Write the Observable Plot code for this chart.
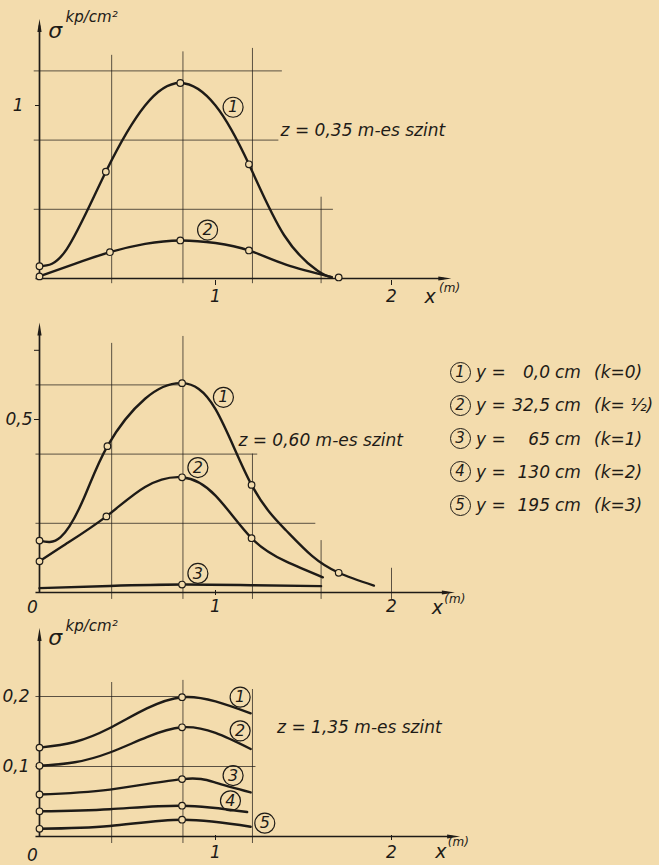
<!DOCTYPE html>
<html><head><meta charset="utf-8">
<script src="https://cdn.jsdelivr.net/npm/d3@7"></script>
<script src="https://cdn.jsdelivr.net/npm/@observablehq/plot@0.6"></script>
<style>
html,body{margin:0;padding:0;background:#f3dcad;}
#page{position:relative;width:659px;height:865px;overflow:hidden;background:#f3dcad;font-family:"DejaVu Sans","Liberation Sans",sans-serif;font-style:italic;color:#1e1b17;}
#page svg{position:absolute;left:0;overflow:visible;}
.leg{position:absolute;font-size:17px;white-space:pre;line-height:20px;}
.num{position:absolute;width:19px;height:19px;border:1.3px solid #1e1b17;border-radius:50%;font-size:15px;text-align:center;line-height:19px;}
</style></head><body><div id="page"></div>
<script>
const INK = "#1e1b17";
const BG = "#f3dcad";
const FONT = "'DejaVu Sans', 'Liberation Sans', sans-serif";

// shared vertical grid positions (m)
const xGridValues = [0.41, 0.815, 1.21, 1.6];

// ---------- Panel 1: z = 0,35 m ----------
const p1c1X = [0, 0.155, 0.377, 0.6, 0.80, 1.0, 1.19, 1.39, 1.58, 1.66];
const p1c1Y = [0.071, 0.17, 0.617, 1.0, 1.13, 1.0, 0.66, 0.25, 0.045, 0.008];
const p1c2X = [0, 0.2, 0.40, 0.6, 0.80, 1.0, 1.19, 1.40, 1.66];
const p1c2Y = [0.012, 0.085, 0.152, 0.20, 0.22, 0.205, 0.162, 0.08, 0.008];
const p1c1PtX = [0, 0.377, 0.80, 1.19, 1.70];
const p1c1PtY = [0.071, 0.617, 1.13, 0.66, 0.006];
const p1c2PtX = [0, 0.40, 0.80, 1.19];
const p1c2PtY = [0.012, 0.152, 0.22, 0.162];

// ---------- Panel 2: z = 0,60 m ----------
const p2c1X = [0, 0.12, 0.25, 0.386, 0.6, 0.81, 1.0, 1.205, 1.40, 1.55, 1.70, 1.90];
const p2c1Y = [0.15, 0.16, 0.27, 0.423, 0.56, 0.605, 0.53, 0.311, 0.18, 0.105, 0.057, 0.02];
const p2c2X = [0, 0.15, 0.38, 0.6, 0.81, 1.0, 1.205, 1.40, 1.61];
const p2c2Y = [0.09, 0.14, 0.22, 0.305, 0.333, 0.28, 0.157, 0.09, 0.044];
const p2c3X = [0, 0.40, 0.81, 1.20, 1.60];
const p2c3Y = [0.0125, 0.019, 0.023, 0.021, 0.0185];
const p2c1PtX = [0, 0.386, 0.81, 1.205, 1.70];
const p2c1PtY = [0.15, 0.423, 0.605, 0.311, 0.057];
const p2c2PtX = [0, 0.38, 0.81, 1.205];
const p2c2PtY = [0.09, 0.22, 0.333, 0.157];
const p2c3PtX = [0.81];
const p2c3PtY = [0.023];

// ---------- Panel 3: z = 1,35 m ----------
const p3c1X = [0, 0.2, 0.40, 0.61, 0.81, 1.0, 1.20];
const p3c1Y = [0.127, 0.135, 0.155, 0.183, 0.199, 0.193, 0.176];
const p3c2X = [0, 0.2, 0.40, 0.61, 0.81, 1.0, 1.20];
const p3c2Y = [0.101, 0.106, 0.12, 0.142, 0.156, 0.148, 0.125];
const p3c3X = [0, 0.40, 0.81, 1.0, 1.20];
const p3c3Y = [0.06, 0.067, 0.082, 0.077, 0.063];
const p3c4X = [0, 0.40, 0.81, 1.18];
const p3c4Y = [0.036, 0.039, 0.044, 0.035];
const p3c5X = [0, 0.40, 0.81, 1.20];
const p3c5Y = [0.011, 0.015, 0.024, 0.014];
const p3PtX = [0, 0.81];

// tick labels
const p1XTicks = [1, 2], p1YTicks = [1];
const p2YTicks = [0.5, 0.7];
const p3XTicks = [1, 2], p3YTicks = [0.1, 0.2];

// legend
const legendNums = ["1", "2", "3", "4", "5"];
const legendVals = ["0,0", "32,5", "65", "130", "195"];
const legendK = ["0", " ½", "1", "2", "3"];

const rows = (xs, ys, id) => xs.map((x, i) => ({x, y: ys[i], id}));
const comma = d => String(d).replace(".", ",");

const arrowHead = {
  draw(ctx, size) {
    const k = Math.sqrt(size / Math.PI);
    ctx.moveTo(0, 0);
    ctx.lineTo(-0.42 * k, 2.6 * k);
    ctx.lineTo(0.42 * k, 2.6 * k);
    ctx.closePath();
  }
};

const page = document.getElementById("page");

function axesMarks(xEnd, yEnd) {
  return [
    Plot.ruleY([0], {x1: -0.02, x2: xEnd, stroke: INK, strokeWidth: 1.7}),
    Plot.ruleX([0], {y1: 0, y2: yEnd, stroke: INK, strokeWidth: 1.7}),
  ];
}

function curveMarks(lines, pts) {
  return [
    ...lines.map(d => Plot.line(d, {x: "x", y: "y", curve: "natural", stroke: INK, strokeWidth: 2.4})),
    ...pts.map(d => Plot.dot(d, {x: "x", y: "y", r: 3.3, fill: BG, stroke: INK, strokeWidth: 1.2}))
  ];
}

function circledLabels(data) {
  return [
    Plot.dot(data, {x: "x", y: "y", r: 10, fill: "none", stroke: INK, strokeWidth: 1.2}),
    Plot.text(data, {x: "x", y: "y", text: "t", fontSize: 16, fontStyle: "italic", fill: INK})
  ];
}

function makePanel({top, height, yDomain, yRange, marks}) {
  const svg = Plot.plot({
    width: 659, height,
    x: {domain: [0, 1], range: [39, 215], axis: null},
    y: {domain: yDomain, range: yRange, axis: null},
    style: {background: "transparent", color: INK, fontFamily: FONT, fontStyle: "italic", fontSize: "17px", overflow: "visible"},
    marks
  });
  svg.style.top = top + "px";
  page.appendChild(svg);
}

const gridStyle = {stroke: INK, strokeWidth: 0.9, strokeOpacity: 0.8};

// Panel 1
makePanel({
  top: 0, height: 310, yDomain: [0, 1], yRange: [278, 105],
  marks: [
    Plot.ruleY([{y: 0.4, a: -0.03, b: 1.67}, {y: 0.8, a: -0.03, b: 1.36}, {y: 1.2, a: -0.03, b: 1.38}], {y: "y", x1: "a", x2: "b", ...gridStyle}),
    Plot.ruleX(xGridValues.map((x, i) => ({x, a: -0.03, b: [1.29, 1.31, 1.33, 0.47][i]})), {x: "x", y1: "a", y2: "b", ...gridStyle}),
    ...axesMarks(2.3, 1.46),
    Plot.dot([{x: 2.34, y: 0, r: 90}, {x: 0, y: 1.50, r: 0}], {x: "x", y: "y", rotate: "r", symbol: arrowHead, r: 5, fill: INK, stroke: "none"}),
    Plot.axisX(p1XTicks, {tickSize: 5, tickPadding: 4, stroke: INK, fontSize: 17, tickFormat: comma}),
    Plot.axisY(p1YTicks, {tickSize: 5, tickPadding: 12, stroke: INK, fontSize: 17, tickFormat: comma}),
    ...curveMarks([rows(p1c1X, p1c1Y, 1), rows(p1c2X, p1c2Y, 2)], [rows(p1c1PtX, p1c1PtY, 1), rows(p1c2PtX, p1c2PtY, 2)]),
    ...circledLabels([{x: 1.10, y: 0.99, t: "1"}, {x: 0.955, y: 0.28, t: "2"}]),
    Plot.text(["z = 0,35 m-es szint"], {x: 1.37, y: 0.855, textAnchor: "start", fontSize: 17, fill: INK}),
    Plot.text(["σ"], {x: 0.09, y: 1.43, fontSize: 22, fill: INK}),
    Plot.text(["kp/cm²"], {x: 0.148, y: 1.51, textAnchor: "start", fontSize: 15, fill: INK}),
    Plot.text(["x"], {x: 2.22, y: -0.104, fontSize: 19, fill: INK}),
    Plot.text(["(m)"], {x: 2.33, y: -0.055, fontSize: 12, fill: INK})
  ]
});

// Panel 2
makePanel({
  top: 310, height: 310, yDomain: [0, 0.5], yRange: [282, 109],
  marks: [
    Plot.ruleY([{y: 0.6, a: -0.02, b: 0.81}, {y: 0.4, a: -0.02, b: 1.24}, {y: 0.2, a: -0.02, b: 1.57}], {y: "y", x1: "a", x2: "b", ...gridStyle}),
    Plot.ruleX(xGridValues.concat([2]).map((x, i) => ({x, a: -0.02, b: [0.72, 0.74, 0.40, 0.15, 0.07][i]})), {x: "x", y1: "a", y2: "b", ...gridStyle}),
    ...axesMarks(2.32, 0.75),
    Plot.dot([{x: 2.36, y: 0, r: 90}, {x: 0, y: 0.78, r: 0}], {x: "x", y: "y", rotate: "r", symbol: arrowHead, r: 5, fill: INK, stroke: "none"}),
    Plot.axisX([1], {tickSize: 5, tickPadding: 4, stroke: INK, fontSize: 17, tickFormat: comma}),
    Plot.axisX([2], {tickSize: 0, tickPadding: 9, stroke: INK, fontSize: 17, tickFormat: comma}),
    Plot.text(["0"], {x: 0, y: 0, dx: -7, dy: 15, fontSize: 17, fill: INK}),
    Plot.axisY(p2YTicks, {tickSize: 6, tickPadding: 2, stroke: INK, fontSize: 17, tickFormat: d => d === 0.5 ? comma(d) : ""}),
    ...curveMarks([rows(p2c1X, p2c1Y, 1), rows(p2c2X, p2c2Y, 2), rows(p2c3X, p2c3Y, 3)],
                  [rows(p2c1PtX, p2c1PtY, 1), rows(p2c2PtX, p2c2PtY, 2), rows(p2c3PtX, p2c3PtY, 3)]),
    ...circledLabels([{x: 1.045, y: 0.564, t: "1"}, {x: 0.90, y: 0.361, t: "2"}, {x: 0.90, y: 0.055, t: "3"}]),
    Plot.text(["z = 0,60 m-es szint"], {x: 1.13, y: 0.44, textAnchor: "start", fontSize: 17, fill: INK}),
    Plot.text(["x"], {x: 2.26, y: -0.045, fontSize: 19, fill: INK}),
    Plot.text(["(m)"], {x: 2.36, y: -0.018, fontSize: 12, fill: INK})
  ]
});

// Panel 3
const p3Series = [[p3c1X, p3c1Y], [p3c2X, p3c2Y], [p3c3X, p3c3Y], [p3c4X, p3c4Y], [p3c5X, p3c5Y]];
makePanel({
  top: 610, height: 255, yDomain: [0, 0.1], yRange: [226, 156],
  marks: [
    Plot.ruleY([{y: 0.2, a: -0.02, b: 0.80}, {y: 0.1, a: -0.02, b: 1.23}], {y: "y", x1: "a", x2: "b", ...gridStyle}),
    Plot.ruleX(xGridValues.slice(0, 3).map((x, i) => ({x, a: -0.01, b: [0.22, 0.223, 0.21][i]})), {x: "x", y1: "a", y2: "b", ...gridStyle}),
    ...axesMarks(2.35, 0.28),
    Plot.dot([{x: 2.39, y: 0, r: 90}, {x: 0, y: 0.298, r: 0}], {x: "x", y: "y", rotate: "r", symbol: arrowHead, r: 5, fill: INK, stroke: "none"}),
    Plot.axisX(p3XTicks, {tickSize: 5, tickPadding: 5, stroke: INK, fontSize: 17, tickFormat: comma}),
    Plot.text(["0"], {x: 0, y: 0, dx: -7, dy: 19, fontSize: 17, fill: INK}),
    Plot.axisY(p3YTicks, {tickSize: 0, tickPadding: 11, stroke: INK, fontSize: 17, tickFormat: comma}),
    ...curveMarks(p3Series.map(([xs, ys], k) => rows(xs, ys, k + 1)),
                  p3Series.map(([xs, ys], k) => p3PtX.map(px => ({x: px, y: ys[xs.indexOf(px)], id: k + 1})))),
    ...circledLabels([{x: 1.14, y: 0.199, t: "1"}, {x: 1.14, y: 0.151, t: "2"}, {x: 1.10, y: 0.087, t: "3"}, {x: 1.085, y: 0.051, t: "4"}, {x: 1.28, y: 0.019, t: "5"}]),
    Plot.text(["z = 1,35 m-es szint"], {x: 1.35, y: 0.156, textAnchor: "start", fontSize: 17, fill: INK}),
    Plot.text(["σ"], {x: 0.09, y: 0.283, fontSize: 22, fill: INK}),
    Plot.text(["kp/cm²"], {x: 0.148, y: 0.30, textAnchor: "start", fontSize: 15, fill: INK}),
    Plot.text(["x"], {x: 2.28, y: -0.022, fontSize: 19, fill: INK}),
    Plot.text(["(m)"], {x: 2.38, y: -0.008, fontSize: 12, fill: INK})
  ]
});

// legend
legendNums.forEach((n, i) => {
  const cy = 372 + i * 33.3;
  const c = document.createElement("div");
  c.className = "num"; c.textContent = n;
  c.style.left = (460 - 10.5) + "px"; c.style.top = (cy - 10.5) + "px";
  page.appendChild(c);
  const add = (txt, left, align, w) => {
    const s = document.createElement("div");
    s.className = "leg"; s.textContent = txt;
    s.style.top = (cy - 10) + "px";
    if (align === "right") { s.style.left = (left - w) + "px"; s.style.width = w + "px"; s.style.textAlign = "right"; }
    else s.style.left = left + "px";
    page.appendChild(s);
  };
  add("y =", 476, "left");
  add(legendVals[i], 550, "right", 50);
  add("cm", 555, "left");
  add("(k=" + legendK[i] + ")", 594, "left");
});
</script></body></html>
